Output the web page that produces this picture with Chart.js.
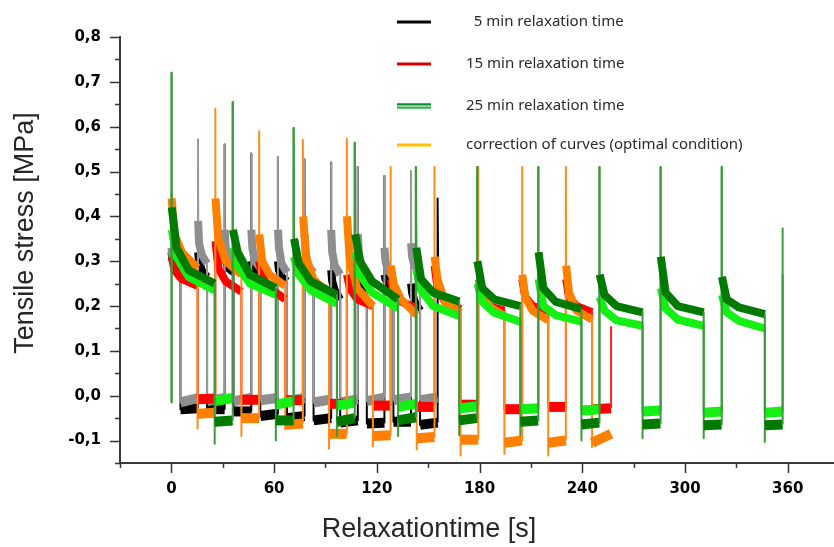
<!DOCTYPE html>
<html>
<head>
<meta charset="UTF-8">
<title>Relaxation test</title>
<style>
  html, body { margin: 0; padding: 0; background: #fff; }
</style>
</head>
<body>
<canvas id="myChart" width="834" height="547"></canvas>

<script src="https://cdn.jsdelivr.net/npm/chart.js@4.4.1/dist/chart.umd.min.js"></script>
<script>
// ---- 5 min relaxation test (black) and its correction (grey) ----
const time5On  = [0, 15.55, 31.1, 46.65, 62.2, 77.75, 93.3, 108.85, 124.4, 139.95, 155.5];
const time5Off = [5.3, 20.85, 36.4, 51.95, 67.5, 83.05, 98.6, 114.15, 129.7, 145.25];
const black5Peak = [0.32, 0.571, 0.56, 0.54, 0.533, 0.527, 0.52, 0.51, 0.49, 0.5, 0.44];
const grey5Peak  = [0.34, 0.571, 0.56, 0.54, 0.533, 0.527, 0.52, 0.51, 0.49, 0.5, null];
const black5Relax = [
  [0.32, 0.305, 0.29, 0.28], [0.32, 0.3, 0.28, 0.265], [0.32, 0.3, 0.285, 0.275],
  [0.3, 0.285, 0.27, 0.26], [0.3, 0.28, 0.265, 0.255], [0.29, 0.27, 0.255, 0.245],
  [0.28, 0.255, 0.235, 0.215], [0.28, 0.26, 0.24, 0.225], [0.27, 0.26, 0.25, 0.24],
  [0.25, 0.23, 0.21, 0.19], [0.3]
];
const grey5Relax = [
  [0.33, 0.31, 0.3, 0.29], [0.39, 0.34, 0.315, 0.295], [0.37, 0.33, 0.31, 0.295],
  [0.37, 0.33, 0.3, 0.285], [0.37, 0.33, 0.295, 0.275], [0.36, 0.32, 0.29, 0.275],
  [0.37, 0.32, 0.29, 0.27], [0.36, 0.32, 0.29, 0.275], [0.33, 0.3, 0.28, 0.265],
  [0.34, 0.31, 0.29, 0.275]
];
const black5Low = [[-0.03, -0.028], [-0.03, -0.03], [-0.035, -0.035], [-0.045, -0.04], [-0.05, -0.045],
  [-0.055, -0.05], [-0.06, -0.055], [-0.062, -0.06], [-0.058, -0.058], [-0.065, -0.06]];
const grey5Low = [[-0.015, -0.005], [-0.012, -0.005], [-0.012, -0.005], [-0.01, -0.005], [-0.012, -0.005],
  [-0.015, -0.008], [-0.015, -0.008], [-0.012, -0.004], [-0.01, -0.004], [-0.01, -0.004]];

// ---- 15 min relaxation test (red) and its correction (orange) ----
const time15On  = [0, 25.6, 51.2, 76.8, 102.4, 128, 153.6, 179.2, 204.8, 230.4, 256.8];
const time15Off = [15.3, 40.9, 66.5, 92.1, 117.7, 143.3, 168.9, 194.5, 220.1, 245.7];
const red15Peak    = [0.31, 0.345, 0.3, 0.3, 0.27, 0.26, 0.29, 0.25, 0.26, 0.26, 0.155];
const orange15Peak = [0.45, 0.64, 0.59, 0.571, 0.573, 0.51, 0.51, 0.51, 0.51, 0.51, null];
const red15Relax = [
  [0.31, 0.28, 0.26, 0.245], [0.345, 0.285, 0.255, 0.232], [0.3, 0.265, 0.24, 0.215],
  [0.3, 0.26, 0.235, 0.215], [0.27, 0.24, 0.215, 0.2], [0.26, 0.23, 0.21, 0.195],
  [0.29, 0.24, 0.21, 0.193], [0.25, 0.22, 0.2, 0.19], [0.26, 0.22, 0.2, 0.19],
  [0.26, 0.22, 0.2, 0.186]
];
const orange15Relax = [
  [0.44, 0.36, 0.32, 0.285], [0.44, 0.35, 0.3, 0.27], [0.36, 0.3, 0.27, 0.245],
  [0.4, 0.31, 0.26, 0.225], [0.4, 0.3, 0.24, 0.2], [0.29, 0.25, 0.215, 0.18],
  [0.31, 0.26, 0.21, 0.185], [0.26, 0.23, 0.2, 0.178], [0.27, 0.22, 0.19, 0.168],
  [0.29, 0.23, 0.19, 0.17]
];
const red15Low = [[-0.008, -0.006], [-0.009, -0.009], [-0.01, -0.01], [-0.018, -0.018], [-0.022, -0.022],
  [-0.025, -0.025], [-0.02, -0.02], [-0.03, -0.03], [-0.025, -0.025], [-0.03, -0.028]];
const orange15Low = [[-0.04, -0.038], [-0.05, -0.05], [-0.065, -0.062], [-0.085, -0.085], [-0.09, -0.088],
  [-0.095, -0.092], [-0.098, -0.098], [-0.105, -0.1], [-0.105, -0.1], [-0.105, -0.085]];
const orange15Dip = [-0.073, -0.09, -0.075, -0.118, -0.113, -0.12, -0.133, -0.13, -0.133, -0.115];

// ---- 25 min relaxation test (dark green) and its correction (light green) ----
const time25On  = [0, 35.7, 71.4, 107.1, 142.8, 178.5, 214.2, 249.9, 285.6, 321.3, 357];
const time25Off = [25.3, 61, 96.7, 132.4, 168.1, 203.8, 239.5, 275.2, 310.9, 346.6];
const dark25Peak  = [0.72, 0.655, 0.597, 0.564, 0.51, 0.51, 0.51, 0.51, 0.51, 0.51, 0.27];
const light25Peak = [0.72, 0.655, 0.597, 0.564, 0.51, 0.51, 0.51, 0.51, 0.51, 0.51, 0.375];
const dark25Relax = [
  [0.42, 0.33, 0.28, 0.25], [0.37, 0.32, 0.27, 0.24], [0.35, 0.295, 0.255, 0.225],
  [0.36, 0.3, 0.255, 0.215], [0.33, 0.26, 0.23, 0.21], [0.3, 0.24, 0.215, 0.2],
  [0.32, 0.24, 0.21, 0.193], [0.27, 0.225, 0.2, 0.186], [0.31, 0.23, 0.2, 0.186],
  [0.265, 0.215, 0.197, 0.182]
];
const light25Relax = [
  [0.37, 0.31, 0.265, 0.235], [0.33, 0.29, 0.25, 0.225], [0.31, 0.27, 0.235, 0.205],
  [0.32, 0.27, 0.23, 0.195], [0.28, 0.235, 0.2, 0.178], [0.25, 0.21, 0.185, 0.165],
  [0.26, 0.2, 0.18, 0.165], [0.22, 0.19, 0.168, 0.156], [0.24, 0.195, 0.17, 0.156],
  [0.225, 0.186, 0.167, 0.15]
];
const dark25Low = [[-0.058, -0.055], [-0.055, -0.055], [-0.058, -0.05], [-0.055, -0.048], [-0.055, -0.05],
  [-0.058, -0.055], [-0.064, -0.06], [-0.064, -0.062], [-0.066, -0.064], [-0.066, -0.064]];
const light25Low = [[-0.012, -0.005], [-0.02, -0.012], [-0.022, -0.015], [-0.025, -0.018], [-0.028, -0.024],
  [-0.03, -0.028], [-0.033, -0.03], [-0.035, -0.033], [-0.038, -0.035], [-0.038, -0.035]];
const dark25Dip = [-0.107, -0.1, -0.09, -0.09, -0.088, -0.088, -0.1, -0.095, -0.095, -0.103];
const start25 = -0.015;

// labels
const legendLabels = ['  5 min relaxation time', '15 min relaxation time', '25 min relaxation time',
  'correction of curves (optimal condition)'];
const yTitle = 'Tensile stress [MPa]';
const xTitle = 'Relaxationtime [s]';

// where the read relaxation values sit inside each holding period (fraction of it)
const holdFrac = [0.01, 0.12, 0.4, 1];

function buildCurve(on, off, peak, relax, low, dip, start) {
  const pts = [];
  if (start !== null) pts.push({x: on[0], y: start});
  for (let i = 0; i < on.length; i++) {
    const t0 = on[i];
    if (i > 0) pts.push({x: t0, y: low[i - 1][1]});
    if (peak[i] === null) break;
    pts.push({x: t0, y: peak[i]});
    const r = relax[i];
    if (!r) break;
    if (off[i] === undefined) { pts.push({x: t0 + 0.3, y: r[0]}); break; }
    const hold = off[i] - t0;
    r.forEach((v, j) => pts.push({x: t0 + holdFrac[j] * hold, y: v}));
    if (dip) pts.push({x: off[i], y: dip[i]});
    pts.push({x: off[i], y: low[i][0]});
  }
  return pts;
}

const isSpike = c => Math.abs(c.p1.parsed.x - c.p0.parsed.x) < 0.45;
const isLow = c => c.p0.parsed.y < 0.05 && c.p1.parsed.y < 0.05;

function curve(label, color, spikeColor, pts) {
  return {
    label: label, data: pts, borderColor: color, borderWidth: 8,
    borderJoinStyle: 'round', borderCapStyle: 'butt',
    pointRadius: 0, fill: false, tension: 0,
    segment: {
      borderWidth: c => isSpike(c) ? 2 : (isLow(c) ? 10 : 8),
      borderColor: c => isSpike(c) ? spikeColor : color
    }
  };
}

// first dataset is drawn on top
const datasets = [
  curve('25 min', '#007a00', '#3c9a3c', buildCurve(time25On, time25Off, dark25Peak, dark25Relax, dark25Low, dark25Dip, start25)),
  curve('25 min corr.', '#14f014', '#3c9a3c', buildCurve(time25On, time25Off, light25Peak, light25Relax, light25Low, null, start25)),
  curve('15 min corr.', '#ff8000', '#ff8c1a', buildCurve(time15On, time15Off, orange15Peak, orange15Relax, orange15Low, orange15Dip, null)),
  curve('15 min', '#ff0000', '#ff2020', buildCurve(time15On, time15Off, red15Peak, red15Relax, red15Low, null, null)),
  curve('5 min corr.', '#8e8e8e', '#9a9a9a', buildCurve(time5On, time5Off, grey5Peak, grey5Relax, grey5Low, null, null)),
  curve('5 min', '#000000', '#000000', buildCurve(time5On, time5Off, black5Peak, black5Relax, black5Low, null, null))
];

const decorPlugin = {
  id: 'decor',
  afterDraw(chart) {
    const ctx = chart.ctx;
    const xs = chart.scales.x, ys = chart.scales.y;
    const area = chart.chartArea;
    ctx.save();
    // tick marks outside the axes
    ctx.strokeStyle = '#333';
    ctx.lineWidth = 1.5;
    ys.ticks.forEach(t => {
      const k = Math.round(t.value * 100);
      if (k % 5 !== 0) return;
      const len = k % 10 === 0 ? 10 : 5;
      const y = Math.round(ys.getPixelForValue(t.value)) + 0.5;
      ctx.beginPath(); ctx.moveTo(area.left - len, y); ctx.lineTo(area.left, y); ctx.stroke();
    });
    xs.ticks.forEach(t => {
      const v = Math.round(t.value);
      if (v % 30 !== 0) return;
      const len = v % 60 === 0 ? 10 : 5;
      const x = Math.round(xs.getPixelForValue(v)) + 0.5;
      ctx.beginPath(); ctx.moveTo(x, area.bottom); ctx.lineTo(x, area.bottom + len); ctx.stroke();
    });

    // axis titles
    ctx.fillStyle = '#262626';
    ctx.font = '27px "Liberation Sans Narrow", "Liberation Sans", sans-serif';
    ctx.textAlign = 'center';
    ctx.textBaseline = 'middle';
    ctx.fillText(xTitle, 429, 530);
    ctx.save();
    ctx.translate(26, 233);
    ctx.rotate(-Math.PI / 2);
    ctx.fillText(yTitle, 0, 0);
    ctx.restore();

    // legend
    const rows = [22, 64, 106, 145];
    const colors = ['#000000', '#d40000', null, '#ffc000'];
    ctx.font = '15px "Noto Sans", "Open Sans", sans-serif';
    ctx.textAlign = 'left';
    ctx.fillStyle = '#2a2a2a';
    rows.forEach((y, i) => {
      ctx.lineWidth = 3;
      if (colors[i]) {
        ctx.strokeStyle = colors[i];
        ctx.beginPath(); ctx.moveTo(397, y); ctx.lineTo(431, y); ctx.stroke();
      } else {
        ctx.lineWidth = 2.2;
        ctx.strokeStyle = '#0e8a2a';
        ctx.beginPath(); ctx.moveTo(397, y - 1.6); ctx.lineTo(431, y - 1.6); ctx.stroke();
        ctx.strokeStyle = '#2fb24a';
        ctx.beginPath(); ctx.moveTo(397, y + 1.6); ctx.lineTo(431, y + 1.6); ctx.stroke();
      }
      ctx.fillText(legendLabels[i], 466, y);
    });
    ctx.restore();
  }
};

const tickFont = {family: '"DejaVu Sans", sans-serif', weight: 'bold', size: 15};

new Chart(document.getElementById('myChart').getContext('2d'), {
  type: 'line',
  data: {datasets: datasets},
  options: {
    responsive: false,
    animation: false,
    events: [],
    layout: {padding: {top: 37, right: 0, left: 0, bottom: 0}},
    plugins: {legend: {display: false}, tooltip: {enabled: false}},
    scales: {
      x: {
        type: 'linear', min: -30, max: 387,
        afterFit: s => { s.height = 84; s.paddingLeft = 0; s.paddingRight = 0; },
        grid: {drawOnChartArea: false, drawTicks: false},
        border: {display: true, color: '#3a3a3a', width: 2},
        ticks: {
          stepSize: 30, autoSkip: false, maxRotation: 0, padding: 17,
          color: '#000', font: tickFont,
          callback: v => (v >= 0 && Math.round(v) % 60 === 0) ? String(Math.round(v)) : ''
        }
      },
      y: {
        min: -0.15, max: 0.8,
        afterFit: s => { s.width = 120; },
        grid: {drawOnChartArea: false, drawTicks: false},
        border: {display: true, color: '#3a3a3a', width: 2},
        ticks: {
          stepSize: 0.05, autoSkip: false, padding: 19,
          color: '#000', font: tickFont,
          callback: v => {
            const k = Math.round(v * 100);
            return k % 10 === 0 ? (k / 100).toFixed(1).replace('.', ',') : '';
          }
        }
      }
    }
  },
  plugins: [decorPlugin]
});
</script>
</body>
</html>
